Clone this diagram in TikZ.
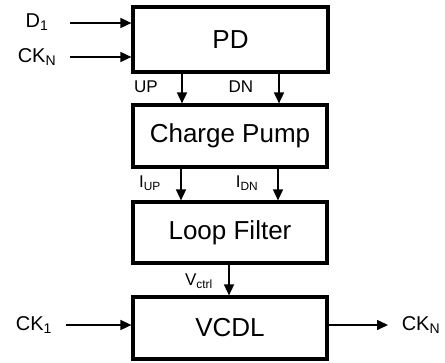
\documentclass[tikz,border=0pt]{standalone}
\usepackage{fontspec}
\setmainfont{Liberation Sans}
\usetikzlibrary{arrows.meta}
\tikzset{
  blk/.style={draw, line width=3.2pt, inner sep=0pt, font=\fontsize{26}{30}\selectfont},
  sig/.style={line width=1.6pt, -{Triangle[length=11pt,width=10pt]}},
  lbl/.style={inner sep=0pt, font=\fontsize{20}{24}\selectfont},
  slbl/.style={inner sep=0pt, font=\fontsize{17}{20}\selectfont}
}
\begin{document}
\begin{tikzpicture}[x=1pt,y=-1pt]
\useasboundingbox (0,0) rectangle (445,362);
% boxes
\node[blk, minimum width=195pt, minimum height=65pt] (pd) at (230.5,39.5) {PD};
\node[blk, minimum width=194pt, minimum height=62pt] (cp) at (230,136) {Charge Pump};
\node[blk, minimum width=194pt, minimum height=61pt] (lf) at (230,232.5) {Loop Filter};
\node[blk, minimum width=194pt, minimum height=62pt] (vcdl) at (230,328) {VCDL};
% input labels
\node[lbl] (d1) at (37,22) {D\textsubscript{1}};
\node[lbl] (ckn) at (37,57) {CK\textsubscript{N}};
\node[lbl] (ck1) at (34,325) {CK\textsubscript{1}};
\node[lbl] (cko) at (421,325) {CK\textsubscript{N}};
\coordinate (d1s) at (70,23);
\coordinate (ckns) at (70,57);
\coordinate (ck1s) at (66,325);
\coordinate (ckoe) at (388,325);
\draw[sig] (d1s) -- (d1s -| pd.west);
\draw[sig] (ckns) -- (ckns -| pd.west);
\draw[sig] (ck1s) -- (ck1s -| vcdl.west);
\draw[sig] (vcdl.east |- ckoe) -- (ckoe);
% vertical signals
\draw[sig] (pd.south -| 182,0) -- (cp.north -| 182,0);
\draw[sig] (pd.south -| 279,0) -- (cp.north -| 279,0);
\draw[sig] (cp.south -| 181,0) -- (lf.north -| 181,0);
\draw[sig] (cp.south -| 278,0) -- (lf.north -| 278,0);
\draw[sig] (lf.south -| 229,0) -- (vcdl.north -| 229,0);
% signal labels
\node[slbl] (up) at (146,87) {UP};
\node[slbl] (dn) at (241,87) {DN};
\node[slbl] (iup) at (150,183) {I\textsubscript{UP}};
\node[slbl] (idn) at (247,183) {I\textsubscript{DN}};
\node[slbl] (vc) at (199,281) {V\textsubscript{ctrl}};
\end{tikzpicture}
\end{document}
